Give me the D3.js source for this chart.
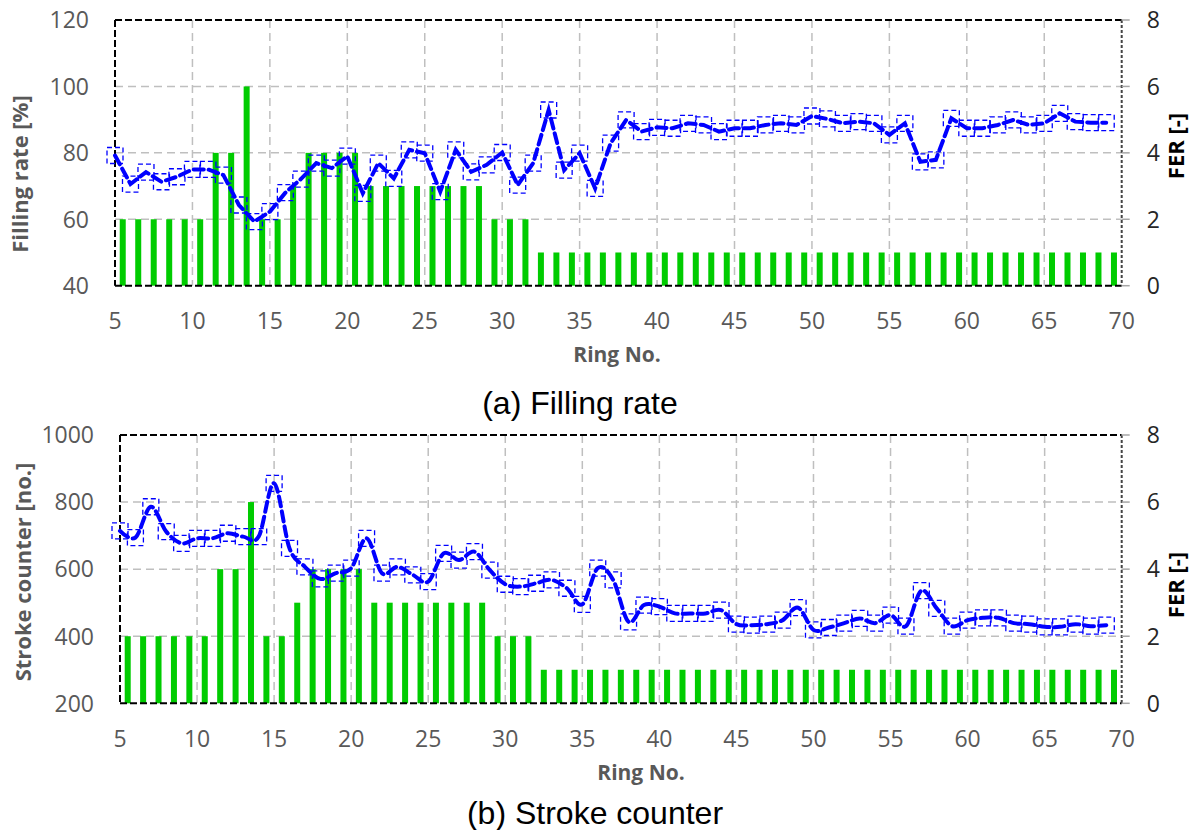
<!DOCTYPE html>
<html>
<head>
<meta charset="utf-8">
<script src="https://cdn.jsdelivr.net/npm/d3@7"></script>
<style>
  html, body { margin: 0; padding: 0; background: #fff; }
  svg { display: block; }
</style>
</head>
<body>
<svg id="chart" width="1197" height="830"></svg>
<script>
// ---------- DATA ----------
const rings = [5,6,7,8,9,10,11,12,13,14,15,16,17,18,19,20,21,22,23,24,25,26,27,28,29,30,31,32,33,34,35,36,37,38,39,40,41,42,43,44,45,46,47,48,49,50,51,52,53,54,55,56,57,58,59,60,61,62,63,64,65,66,67,68,69];

const fillingRate = [60,60,60,60,60,60,80,80,100,60,60,70,80,80,80,80,70,70,70,70,70,70,70,70,60,60,60,
  50,50,50,50,50,50,50,50,50,50,50,50,50,50,50,50,50,50,50,50,50,50,50,50,50,50,50,50,50,50,50,50,50,50,50,50,50,50];

const ferA = [3.92,3.06,3.42,3.13,3.28,3.50,3.50,3.33,2.43,1.93,2.23,2.80,3.21,3.69,3.54,3.90,2.78,3.69,3.23,4.09,3.99,2.83,4.09,3.43,3.64,4.01,3.03,3.69,5.29,3.48,3.99,2.93,4.29,4.99,4.64,4.77,4.74,4.89,4.84,4.64,4.74,4.74,4.84,4.89,4.84,5.11,5.02,4.89,4.94,4.89,4.54,4.89,3.73,3.79,5.04,4.74,4.74,4.84,4.99,4.84,4.89,5.19,4.94,4.91,4.91];

const strokeCounter = [400,400,400,400,400,400,600,600,800,400,400,500,600,600,600,600,500,500,500,500,500,500,500,500,400,400,400,
  300,300,300,300,300,300,300,300,300,300,300,300,300,300,300,300,300,300,300,300,300,300,300,300,300,300,300,300,300,300,300,300,300,300,300,300,300,300];

const ferB = [5.14,4.94,5.86,5.12,4.77,4.92,4.92,5.07,4.97,4.97,6.56,4.62,4.07,3.71,3.88,4.03,4.92,3.88,4.07,3.83,3.63,4.47,4.27,4.52,3.97,3.55,3.48,3.58,3.68,3.43,2.95,4.03,3.68,2.43,2.93,2.88,2.68,2.68,2.68,2.78,2.36,2.33,2.36,2.48,2.85,2.19,2.26,2.39,2.53,2.39,2.63,2.30,3.36,2.83,2.30,2.48,2.55,2.55,2.39,2.36,2.28,2.28,2.36,2.30,2.33];

const xTicks = [5,10,15,20,25,30,35,40,45,50,55,60,65,70];
const ticksA = [40,60,80,100,120];
const ticksB = [200,400,600,800,1000];
const ticksFER = [0,2,4,6,8];

const titlesA = { left: "Filling rate [%]", right: "FER [-]", x: "Ring No.", caption: "(a) Filling rate" };
const titlesB = { left: "Stroke counter [no.]", right: "FER [-]", x: "Ring No.", caption: "(b) Stroke counter" };

// ---------- DRAW ----------
const svg = d3.select("#chart");
const TICK_FONT = "'Open Sans', 'Noto Sans', sans-serif";

function panel(cfg) {
  const g = svg.append("g");
  const x = d3.scaleLinear().domain([5, 70]).range([cfg.left, cfg.right]);
  const yL = d3.scaleLinear().domain(cfg.yDomain).range([cfg.bottom, cfg.top]);
  const yR = d3.scaleLinear().domain([0, 8]).range([cfg.bottom, cfg.top]);

  // grid
  const grid = g.append("g");
  grid.selectAll("line.h").data(cfg.yTicks.slice(1, -1)).join("line")
    .attr("x1", cfg.left).attr("x2", cfg.right)
    .attr("y1", d => yL(d)).attr("y2", d => yL(d))
    .attr("stroke", "#bfbfbf").attr("stroke-width", 1.5).attr("stroke-dasharray", "8,5");
  grid.selectAll("line.v").data(xTicks.slice(1, -1)).join("line")
    .attr("y1", cfg.top).attr("y2", cfg.bottom)
    .attr("x1", d => x(d)).attr("x2", d => x(d))
    .attr("stroke", "#bfbfbf").attr("stroke-width", 1.5).attr("stroke-dasharray", "8,5");

  // bars
  g.append("g").selectAll("rect").data(rings.map((r, i) => ({ r, v: cfg.bars[i] }))).join("rect")
    .attr("x", d => x(d.r + 0.5) - 3)
    .attr("width", 6)
    .attr("y", d => yL(d.v))
    .attr("height", d => cfg.bottom - yL(d.v))
    .attr("fill", "#00cc00");

  // border
  g.append("line").attr("x1", cfg.left).attr("x2", cfg.right).attr("y1", cfg.top).attr("y2", cfg.top)
    .attr("stroke", "#000").attr("stroke-width", 2).attr("stroke-dasharray", "7,3");
  g.append("line").attr("x1", cfg.left).attr("x2", cfg.right).attr("y1", cfg.bottom).attr("y2", cfg.bottom)
    .attr("stroke", "#000").attr("stroke-width", 2).attr("stroke-dasharray", "7,3");
  g.append("line").attr("x1", cfg.left).attr("x2", cfg.left).attr("y1", cfg.top).attr("y2", cfg.bottom)
    .attr("stroke", "#000").attr("stroke-width", 2).attr("stroke-dasharray", "7,3");
  g.append("line").attr("x1", cfg.right).attr("x2", cfg.right).attr("y1", cfg.top).attr("y2", cfg.bottom)
    .attr("stroke", "#444").attr("stroke-width", 2).attr("stroke-dasharray", "3,2");

  // right ticks
  g.append("g").selectAll("line").data(ticksFER).join("line")
    .attr("x1", cfg.right).attr("x2", cfg.right + 8)
    .attr("y1", d => yR(d)).attr("y2", d => yR(d))
    .attr("stroke", "#a6a6a6").attr("stroke-width", 1.5);

  // line
  const pts = rings.map((r, i) => [x(r), yR(cfg.fer[i])]);
  const lineGen = d3.line().curve(cfg.smooth ? d3.curveCatmullRom.alpha(0) : d3.curveLinear);
  g.append("path").attr("d", lineGen(pts)).attr("fill", "none")
    .attr("stroke", "#0000ff").attr("stroke-width", 4).attr("stroke-dasharray", "10,5")
    .attr("stroke-linecap", "round");

  // markers
  g.append("g").selectAll("rect").data(pts).join("rect")
    .attr("x", d => d[0] - 8).attr("y", d => d[1] - 8)
    .attr("width", 16).attr("height", 16)
    .attr("fill", "none").attr("stroke", "#0000ff").attr("stroke-width", 1.3)
    .attr("stroke-dasharray", "5,3");

  // tick labels
  g.append("g").selectAll("text").data(cfg.yTicks).join("text")
    .attr("x", cfg.left - 26).attr("y", d => yL(d)).attr("dy", "0.36em")
    .attr("text-anchor", "end").attr("fill", "#595959")
    .style("font-family", TICK_FONT).style("font-size", "23px").text(d => d);
  g.append("g").selectAll("text").data(ticksFER).join("text")
    .attr("x", cfg.right + 25).attr("y", d => yR(d)).attr("dy", "0.36em")
    .attr("text-anchor", "start").attr("fill", "#262626")
    .style("font-family", TICK_FONT).style("font-size", "23px").text(d => d);
  g.append("g").selectAll("text").data(xTicks).join("text")
    .attr("x", d => x(d)).attr("y", cfg.bottom + 35).attr("dy", "0.36em")
    .attr("text-anchor", "middle").attr("fill", "#595959")
    .style("font-family", TICK_FONT).style("font-size", "23px").text(d => d);

  // titles
  g.append("text").attr("transform", `translate(${cfg.leftTitleX},${cfg.leftTitleY}) rotate(-90)`)
    .attr("text-anchor", "middle").attr("dy", "0.36em").attr("fill", "#595959")
    .style("font-family", TICK_FONT).style("font-size", "22px").style("font-weight", "bold")
    .text(cfg.titles.left);
  g.append("text").attr("transform", `translate(1176,${cfg.rightTitleY}) rotate(-90)`)
    .attr("text-anchor", "middle").attr("dy", "0.36em").attr("fill", "#000")
    .style("font-family", TICK_FONT).style("font-size", "22px").style("font-weight", "bold")
    .text(cfg.titles.right);
  g.append("text").attr("x", cfg.xTitleX).attr("y", cfg.bottom + 69).attr("dy", "0.36em")
    .attr("text-anchor", "middle").attr("fill", "#595959")
    .style("font-family", TICK_FONT).style("font-size", "21px").style("font-weight", "bold")
    .text(cfg.titles.x);
  g.append("text").attr("x", cfg.captionX).attr("y", cfg.captionY).attr("dy", "0.36em")
    .attr("text-anchor", "middle").attr("fill", "#000")
    .style("font-family", "'Liberation Sans', Arial, sans-serif").style("font-size", "32px")
    .text(cfg.titles.caption);
}

panel({
  left: 115, right: 1121.7, top: 20, bottom: 285.7,
  yDomain: [40, 120], yTicks: ticksA, bars: fillingRate, fer: ferA, smooth: false,
  titles: titlesA, leftTitleX: 20, leftTitleY: 174, rightTitleY: 146,
  xTitleX: 617, captionX: 580, captionY: 402
});
panel({
  left: 120, right: 1121.7, top: 435, bottom: 703.3,
  yDomain: [200, 1000], yTicks: ticksB, bars: strokeCounter, fer: ferB, smooth: true,
  titles: titlesB, leftTitleX: 23, leftTitleY: 572, rightTitleY: 585,
  xTitleX: 641, captionX: 595, captionY: 812
});
</script>
</body>
</html>
